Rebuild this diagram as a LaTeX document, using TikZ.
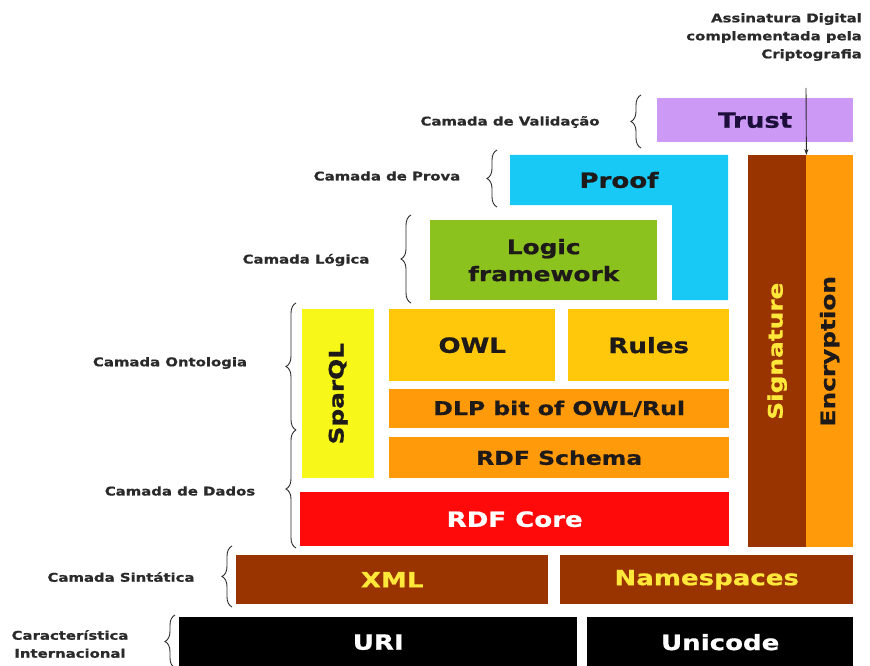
\documentclass[tikz,border=0pt]{standalone}
\usepackage{fontspec}
\setmainfont{DejaVu Sans}[FakeStretch=1.24, BoldFeatures={FakeBold=0.8}]
\usetikzlibrary{decorations.pathreplacing,arrows.meta}
\definecolor{ctrust}{HTML}{CC99F5}
\definecolor{cproof}{HTML}{18C8F5}
\definecolor{clogic}{HTML}{8CC21E}
\definecolor{csparql}{HTML}{F7F71A}
\definecolor{cowl}{HTML}{FFC80A}
\definecolor{corange}{HTML}{FF9A0A}
\definecolor{cred}{HTML}{FF0A0A}
\definecolor{cbrown}{HTML}{993300}
\definecolor{cyell}{HTML}{FFE83A}
\definecolor{ctext}{HTML}{1E1A1A}
\definecolor{cnavy}{HTML}{1E0E3C}
\definecolor{clabel}{HTML}{2A2A2A}
\begin{document}
\begin{tikzpicture}[x=1pt,y=-1pt,
  blk/.style={draw=none, inner sep=0pt, anchor=north west, text=ctext,
    font=\bfseries\fontsize{21}{25}\selectfont},
  lbl/.style={font=\bfseries\fontsize{12}{15}\selectfont, text=clabel, align=center, inner sep=0pt},
  brc/.style={decorate, decoration={brace, amplitude=10pt}, line width=0.9pt, draw=clabel}]
\useasboundingbox (0,0) rectangle (870,666);
\fill[white] (0,0) rectangle (870,666);

% Trust
\node[blk, fill=ctrust, minimum width=196pt, minimum height=44pt, text=cnavy] (trust) at (657,98) {Trust};
% Proof (L-shape)
\fill[cproof] (510,155) -- (728,155) -- (728,300) -- (672,300) -- (672,205) -- (510,205) -- cycle;
\node[font=\bfseries\fontsize{21}{25}\selectfont, text=ctext] (proof) at (619,180) {Proof};
% Logic framework
\node[blk, fill=clogic, minimum width=227pt, minimum height=80pt, align=center, font=\bfseries\fontsize{20}{27}\selectfont] (logic) at (430,220) {Logic\\framework};
% SparQL
\node[blk, fill=csparql, minimum width=72pt, minimum height=169pt] (sparqlbox) at (302,309) {};
\node[rotate=90, font=\bfseries\fontsize{20}{24}\selectfont, text=ctext] (sparql) at (sparqlbox.center) {SparQL};
% OWL, Rules
\node[blk, fill=cowl, minimum width=166pt, minimum height=72pt] (owl) at (389,309) {OWL};
\node[blk, fill=cowl, minimum width=161pt, minimum height=72pt] (rules) at (568,309) {Rules};
% DLP
\node[blk, fill=corange, minimum width=340pt, minimum height=39pt, font=\bfseries\fontsize{19}{23}\selectfont] (dlp) at (389,389) {DLP bit of OWL/Rul};
% RDF Schema
\node[blk, fill=corange, minimum width=340pt, minimum height=41pt, font=\bfseries\fontsize{19}{23}\selectfont] (rdfs) at (389,437) {RDF Schema};
% RDF Core
\node[blk, fill=cred, minimum width=429pt, minimum height=54pt, text=white] (rdfc) at (300,492) {RDF Core};
% Signature / Encryption
\node[blk, fill=cbrown, minimum width=58pt, minimum height=392pt] (sigbox) at (748,155) {};
\node[rotate=90, font=\bfseries\fontsize{20}{24}\selectfont, text=cyell] (sig) at (sigbox.center) {Signature};
\node[blk, fill=corange, minimum width=47pt, minimum height=392pt] (encbox) at (806,155) {};
\node[rotate=90, font=\bfseries\fontsize{20}{24}\selectfont, text=ctext] (enc) at (encbox.center) {Encryption};
% XML / Namespaces
\node[blk, fill=cbrown, minimum width=312pt, minimum height=49pt, text=cyell] (xml) at (236,555) {XML};
\node[blk, fill=cbrown, minimum width=293pt, minimum height=49pt, text=cyell] (ns) at (560,555) {Namespaces};
% URI / Unicode
\node[blk, fill=black, minimum width=398pt, minimum height=50pt, text=white] (uri) at (179,617) {URI};
\node[blk, fill=black, minimum width=266pt, minimum height=50pt, text=white] (uni) at (587,617) {Unicode};

% arrow and note
\node[lbl, align=right, anchor=north east, font=\bfseries\fontsize{12}{18}\selectfont] (note) at (862,13) {Assinatura Digital\\complementada pela\\Criptografia};
\coordinate (arrtop) at (806,88);
\draw[-{Stealth[length=6pt,width=4pt]}, line width=0.9pt, draw=clabel] (arrtop) -- (sigbox.north east);

% braces and labels
\draw[brc] (641,148) -- (641,95);
\node[lbl] (lval) at (510,122) {Camada de Validação};
\draw[brc] (497,207) -- (497,150);
\node[lbl] (lprova) at (387,176) {Camada de Prova};
\draw[brc] (411,303) -- (411,215);
\node[lbl] (llog) at (306,260) {Camada Lógica};
\draw[brc] (296,430) -- (296,303);
\node[lbl] (lont) at (170,363) {Camada Ontologia};
\draw[brc] (296,548) -- (296,430);
\node[lbl] (ldad) at (180,491) {Camada de Dados};
\draw[brc] (232,607) -- (232,546);
\node[lbl] (lsin) at (121,577) {Camada Sintática};
\draw[brc] (175,668) -- (175,615);
\node[lbl, font=\bfseries\fontsize{12}{18}\selectfont] (lint) at (70,644) {Característica\\Internacional};
\end{tikzpicture}
\end{document}
